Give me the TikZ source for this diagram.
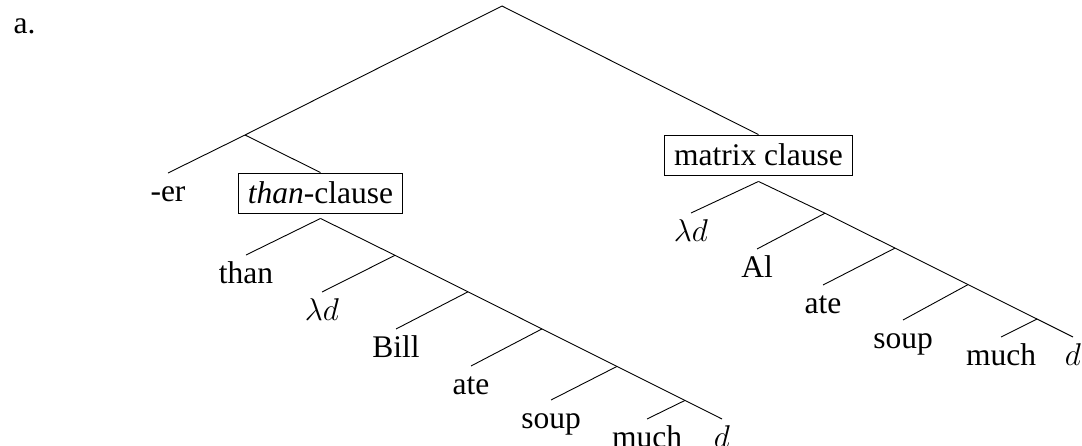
\RequirePackage{fix-cm}
\documentclass[tikz,border=0pt]{standalone}
\usepackage{fontspec}
\setmainfont{Liberation Serif}
\usetikzlibrary{calc}
\begin{document}
\begin{tikzpicture}[x=1pt,y=-1pt,
  every node/.style={font=\fontsize{31.5}{36}\selectfont},
  edge/.style={line width=0.9pt},
  leaf/.style={anchor=north,inner sep=0pt,text height=28pt,text depth=8pt},
  clausebox/.style={draw,line width=0.9pt,anchor=base,inner xsep=9.5pt,inner ysep=8pt,text height=22pt,text depth=2pt}]
\useasboundingbox (0,0) rectangle (1082,445);

\node[anchor=base west] (lab) at (10,33) {a.};

% top
\coordinate (root) at (502,6);
\coordinate (j1) at (245,135);
\node[clausebox] (tc) at (320.5,203) {\textit{than}-clause};
\node[clausebox] (mc) at (758.5,165) {matrix clause};
\node[leaf] (er) at (168,173) {-er};

% than-clause subtree
\coordinate (t0) at ($(tc.south)+(0,5)$);
\coordinate (t1) at (395,255.3);
\coordinate (t2) at (468,291.8);
\coordinate (t3) at (542,328.9);
\coordinate (t4) at (617,366.4);
\coordinate (t5) at (685,400.4);
\node[leaf] (lthan) at (246,255) {than};
\node[leaf] (llam) at (322,292) {$\lambda d$};
\node[leaf] (lbill) at (396,329) {Bill};
\node[leaf] (late) at (471,366) {ate};
\node[leaf] (lsoup) at (551,400) {soup};
\node[leaf] (lmuch) at (647,419) {much};
\node[leaf] (ld) at (722,419) {$d$};

% matrix subtree
\coordinate (m0) at ($(mc.south)+(0,6)$);
\coordinate (m1) at (825,213.2);
\coordinate (m2) at (895,248.1);
\coordinate (m3) at (968,284.6);
\coordinate (m4) at (1037,319.0);
\node[leaf] (rlam) at (691,213) {$\lambda d$};
\node[leaf] (ral) at (757,249) {Al};
\node[leaf] (rate) at (823,285) {ate};
\node[leaf] (rsoup) at (903,320) {soup};
\node[leaf] (rmuch) at (1001,337) {much};
\node[leaf] (rd) at (1073,337) {$d$};

% edges
\draw[edge] (j1) -- (root) -- (mc.north);
\draw[edge] (er.north) -- (j1) -- (tc.north);

\draw[edge] (t0) -- (t1) -- (t2) -- (t3) -- (t4) -- (t5) -- (ld.north);
\draw[edge] (t0) -- (lthan.north);
\draw[edge] (t1) -- (llam.north);
\draw[edge] (t2) -- (lbill.north);
\draw[edge] (t3) -- (late.north);
\draw[edge] (t4) -- (lsoup.north);
\draw[edge] (t5) -- (lmuch.north);

\draw[edge] (m0) -- (m1) -- (m2) -- (m3) -- (m4) -- (rd.north);
\draw[edge] (m0) -- (rlam.north);
\draw[edge] (m1) -- (ral.north);
\draw[edge] (m2) -- (rate.north);
\draw[edge] (m3) -- (rsoup.north);
\draw[edge] (m4) -- (rmuch.north);
\end{tikzpicture}
\end{document}
